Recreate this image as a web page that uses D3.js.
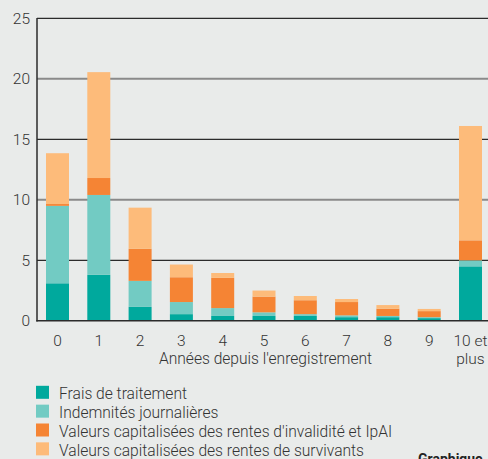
<!DOCTYPE html>
<html>
<head>
<meta charset="utf-8">
<script src="https://cdn.jsdelivr.net/npm/d3@7/dist/d3.min.js"></script>
<style>
  html, body { margin: 0; padding: 0; background: #e9ebea; }
  svg { display: block; }
  text { font-family: Roboto, "Liberation Sans", sans-serif; font-weight: 300; fill: #333; }
</style>
</head>
<body>
<svg id="chart" width="488" height="459"></svg>
<script>
const categories = ["0", "1", "2", "3", "4", "5", "6", "7", "8", "9", "10 et plus"];
const fraisTraitement = [3.1, 3.8, 1.15, 0.55, 0.4, 0.4, 0.4, 0.3, 0.3, 0.22, 4.5];
const indemnites = [6.4, 6.6, 2.15, 1.0, 0.65, 0.3, 0.15, 0.15, 0.1, 0.08, 0.5];
const rentesInvalidite = [0.15, 1.4, 2.65, 2.05, 2.5, 1.3, 1.15, 1.1, 0.6, 0.5, 1.65];
const rentesSurvivants = [4.2, 8.75, 3.4, 1.05, 0.4, 0.5, 0.35, 0.25, 0.3, 0.18, 9.45];
const yTicks = [0, 5, 10, 15, 20, 25];
const seriesNames = [
  "Frais de traitement",
  "Indemnités journalières",
  "Valeurs capitalisées des rentes d'invalidité et IpAI",
  "Valeurs capitalisées des rentes de survivants"
];
const colors = ["#00a99d", "#72cbc3", "#f58434", "#fdbb7a"];
const xTitle = "Années depuis l'enregistrement";

const keys = ["frais", "indem", "inval", "surv"];
const table = categories.map((c, i) => ({
  cat: c,
  frais: fraisTraitement[i],
  indem: indemnites[i],
  inval: rentesInvalidite[i],
  surv: rentesSurvivants[i]
}));

const svg = d3.select("#chart");
const x = d3.scalePoint().domain(categories).range([57.5, 470.5]);
const y = d3.scaleLinear().domain([0, 25]).range([320.8, 18.3]);
const barW = 23;
const color = d3.scaleOrdinal().domain(keys).range(colors);

// gridlines
svg.append("g").selectAll("line").data(yTicks.filter(t => t > 0)).join("line")
  .attr("x1", 37).attr("x2", 488)
  .attr("y1", d => y(d)).attr("y2", d => y(d))
  .attr("stroke", d => (d % 10 === 0) ? "#8a8a8a" : "#2b2b2b")
  .attr("stroke-width", d => (d % 10 === 0) ? 2 : 1.2);

// bars
const stacked = d3.stack().keys(keys)(table);
svg.append("g").selectAll("g").data(stacked).join("g")
  .attr("fill", d => color(d.key))
  .selectAll("rect").data(d => d).join("rect")
  .attr("x", d => x(d.data.cat) - barW / 2)
  .attr("width", barW)
  .attr("y", d => y(d[1]))
  .attr("height", d => y(d[0]) - y(d[1]));

// axes lines
svg.append("line").attr("x1", 37).attr("x2", 37).attr("y1", 18).attr("y2", 321.5)
  .attr("stroke", "#2b2b2b").attr("stroke-width", 1.5);
svg.append("line").attr("x1", 36.3).attr("x2", 488).attr("y1", y(0)).attr("y2", y(0))
  .attr("stroke", "#2b2b2b").attr("stroke-width", 1.6);

// y tick labels
svg.append("g").selectAll("text").data(yTicks).join("text")
  .attr("x", 30).attr("y", d => y(d) + 5.5)
  .attr("text-anchor", "end")
  .attr("font-size", 15.5)
  .text(d => d);

// x tick labels
const xl = svg.append("g").selectAll("text").data(categories).join("text")
  .attr("x", d => x(d))
  .attr("y", 346)
  .attr("text-anchor", "middle")
  .attr("font-size", 15.5);
xl.each(function(d) {
  const parts = d === "10 et plus" ? ["10 et", "plus"] : [d];
  const t = d3.select(this);
  parts.forEach((p, i) => {
    t.append("tspan").attr("x", x(d)).attr("dy", i === 0 ? 0 : 18).text(p);
  });
});

// x title
svg.append("text").attr("x", 265.5).attr("y", 364)
  .attr("text-anchor", "middle").attr("font-size", 15.6).text(xTitle);

// legend
const lg = svg.append("g").selectAll("g").data(seriesNames).join("g")
  .attr("transform", (d, i) => `translate(36, ${385.8 + i * 18.85})`);
lg.append("rect").attr("width", 13).attr("height", 13).attr("fill", (d, i) => colors[i]);
lg.append("text").attr("x", 23).attr("y", 13.5).attr("font-size", 15.6).text(d => d);

// caption, cut off at the bottom edge as in the source
svg.append("text").attr("x", 418).attr("y", 464)
  .attr("font-size", 14).style("font-weight", 700).style("fill", "#222")
  .text("Graphique");
</script>
</body>
</html>
